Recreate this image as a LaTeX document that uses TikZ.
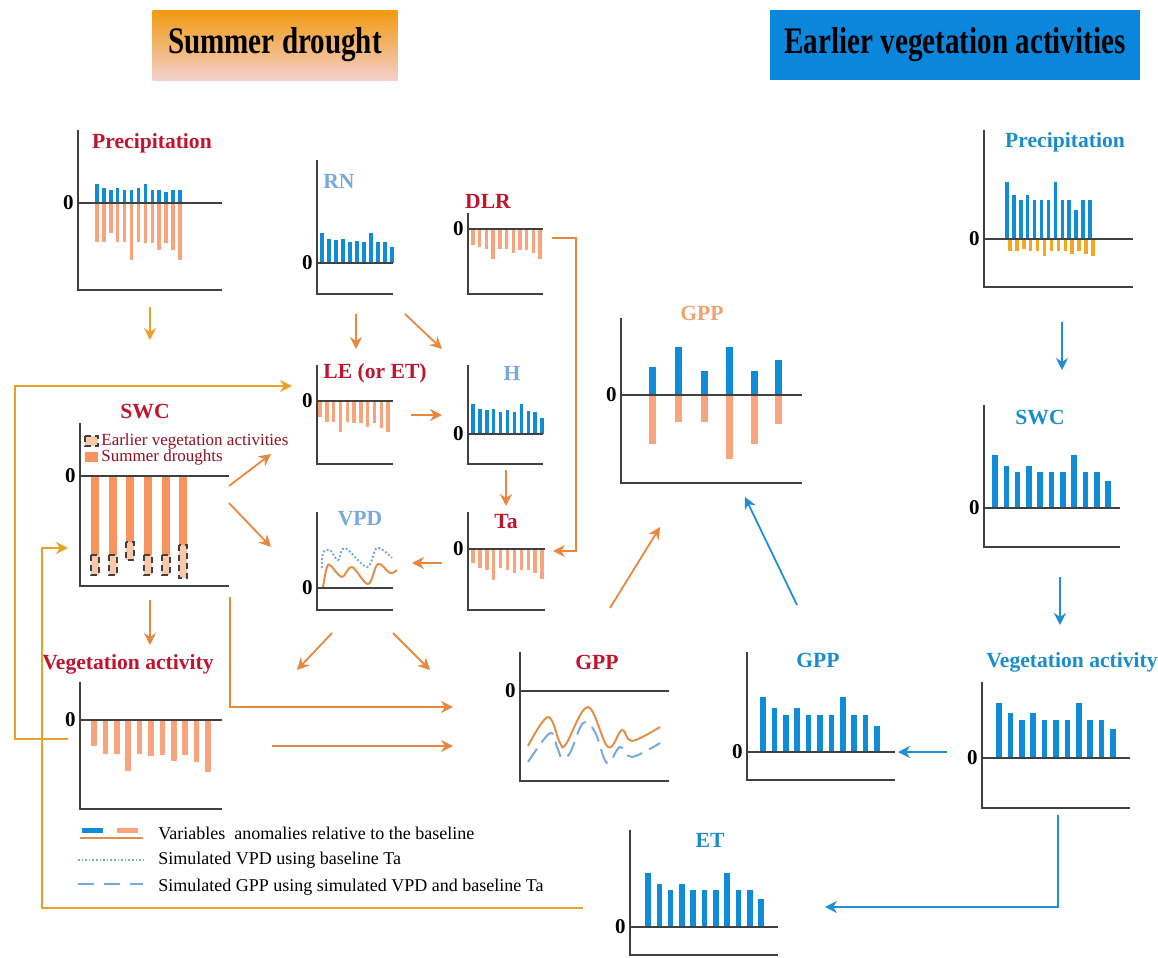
\documentclass[tikz,border=0pt]{standalone}
\usepackage{fontspec}
\setmainfont{Liberation Serif}
\usetikzlibrary{arrows.meta, positioning, calc}

\definecolor{dred}{HTML}{C0142E}
\definecolor{lblue}{HTML}{78A9DE}
\definecolor{tblue}{HTML}{1A8CCB}
\definecolor{barblue}{HTML}{0F8BD8}
\definecolor{barsalmon}{HTML}{F8A57E}
\definecolor{swcbar}{HTML}{F8955E}
\definecolor{swclight}{HTML}{F9C9A9}
\definecolor{baryellow}{HTML}{F5A623}
\definecolor{gpporange}{HTML}{F1A170}
\definecolor{curveorange}{HTML}{E0904A}
\definecolor{arrorange}{HTML}{E8873E}
\definecolor{arrgold}{HTML}{E9A229}
\definecolor{arrblue}{HTML}{1E8FD0}
\definecolor{axisgray}{HTML}{404040}
\definecolor{hdrorange}{HTML}{F29A10}
\definecolor{hdrpink}{HTML}{F3D0CC}
\definecolor{hdrblue}{HTML}{0A87DC}

\tikzset{
  axis/.style={draw=axisgray, line width=0.9pt},
  zero/.style={font=\bfseries\fontsize{10.5}{12}\selectfont, anchor=east, inner sep=0pt},
  title/.style={font=\bfseries\fontsize{10.8}{12}\selectfont, inner sep=1pt},
  header/.style={font=\bfseries\fontsize{15}{17}\selectfont, inner sep=0pt, minimum height=35pt},
  thinbar/.style={line width=1.7pt},
  widebar/.style={line width=2.8pt},
  gppbar/.style={line width=3.5pt},
  curve/.style={line width=1pt, smooth, tension=0.6},
  arr/.style={draw=arrorange, line width=0.9pt, -{Stealth[length=6pt,width=6pt]}},
  garr/.style={arr, draw=arrgold},
  barr/.style={arr, draw=arrblue},
  legtext/.style={font=\fontsize{9}{10}\selectfont, anchor=west, inner sep=0pt},
  swctext/.style={legtext, text=dred!75!black, font=\fontsize{8.5}{10}\selectfont},
}

% name, x left, y top, x right, y bottom, y zero
\newcommand{\chartframe}[6]{%
  \draw[axis] (#2,#3) -- (#2,#5) -- (#4,#5);
  \draw[axis] (#2,#6) -- (#4,#6);
  \node[zero] (#1-zero) at ({#2-4},#6) {0};
}

\begin{document}
\begin{tikzpicture}[x=0.5pt, y=-0.5pt]
  \useasboundingbox (0,0) rectangle (1158,958);

  % ==========================================
  % Headers
  % ==========================================
  \node[header, top color=hdrorange, bottom color=hdrpink, minimum width=122.5pt] (sd) at (275,45) {\scalebox{0.97}[1.25]{Summer drought}};
  \node[header, fill=hdrblue, minimum width=185pt] (ev) at (955,45) {\scalebox{0.97}[1.25]{Earlier vegetation activities}};

  % ==========================================
  % Summer drought: precipitation
  % ==========================================
  \foreach \h [count=\i] in {19,15,13,15,13,13,15,19,13,13,11,13,13}
    \draw[thinbar, draw=barblue] ({97+(\i-1)*6.9},203) -- ++(0,-\h);
  \foreach \h [count=\i] in {39,39,30,39,39,57,39,40,40,47,40,47,57}
    \draw[thinbar, draw=barsalmon] ({97+(\i-1)*6.9},203) -- ++(0,\h);
  \chartframe{sdprec}{78}{130}{222}{290}{203}
  \node[title, text=dred] (t-sdprec) at (152,143) {Precipitation};

  % ==========================================
  % Energy terms: RN, DLR, LE, H, Ta, VPD
  % ==========================================
  \foreach \h [count=\i] in {30,24,23,24,21,22,21,30,21,21,16}
    \draw[thinbar, draw=barblue] ({322+(\i-1)*7},263) -- ++(0,-\h);
  \chartframe{rn}{317}{160}{393}{294}{263}
  \node[title, text=lblue] (t-rn) at (339,181) {RN};

  \foreach \h [count=\i] in {16,18,20,30,20,20,24,21,21,24,30}
    \draw[thinbar, draw=barsalmon] ({473+(\i-1)*6.7},229) -- ++(0,\h);
  \chartframe{dlr}{468}{213}{543}{294}{229}
  \node[title, text=dred] (t-dlr) at (488,201) {DLR};

  \foreach \h [count=\i] in {16,21,21,31,21,22,22,26,22,27,31}
    \draw[thinbar, draw=barsalmon] ({320+(\i-1)*6.8},401) -- ++(0,\h);
  \chartframe{le}{317}{365}{393}{464}{401}
  \node[title, text=dred] (t-le) at (375,373) {LE (or ET)};

  \foreach \h [count=\i] in {30,25,24,25,22,24,22,30,23,22,16}
    \draw[thinbar, draw=barblue] ({473+(\i-1)*6.9},434) -- ++(0,-\h);
  \chartframe{h}{468}{365}{543}{464}{434}
  \node[title, text=lblue] (t-h) at (512,373) {H};

  \foreach \h [count=\i] in {14,19,21,31,19,21,24,21,21,24,30}
    \draw[thinbar, draw=barsalmon] ({473+(\i-1)*6.9},549) -- ++(0,\h);
  \chartframe{ta}{468}{512}{545}{610}{549}
  \node[title, text=dred] (t-ta) at (506,522) {Ta};

  \draw[curve, draw=lblue, densely dotted] plot coordinates {(322,568) (323,553) (330,550) (338,560) (345,548) (367,567) (377,548) (392,558)};
  \draw[curve, draw=curveorange] plot coordinates {(323,587) (327,567) (331,566) (342,577) (352,567) (368,584) (378,564) (390,573) (397,570)};
  \chartframe{vpd}{317}{512}{393}{610}{588}
  \node[title, text=lblue] (t-vpd) at (360,519) {VPD};

  % ==========================================
  % Summer drought: SWC and vegetation activity
  % ==========================================
  \foreach \x/\b/\e in {95/555/575, 113/555/575, 130/542/560, 148/555/575, 166/555/575, 183/545/578} {
    \fill[swcbar] ({\x-4},476) rectangle ({\x+4},\b);
    \draw[fill=swclight, draw=axisgray, densely dashed, line width=0.6pt] ({\x-4},\b) rectangle ({\x+4},\e);
  }
  \chartframe{swc}{80}{423}{229}{586}{476}
  \node[title, text=dred] (t-swc) at (145,412) {SWC};
  \draw[fill=swclight, draw=axisgray, densely dashed, line width=0.6pt] (85,436) rectangle (98,446);
  \node[swctext] (l-ev) at (101,441) {Earlier vegetation activities};
  \fill[swcbar] (85,452) rectangle (98,462);
  \node[swctext] (l-sd) at (101,457) {Summer droughts};

  \foreach \h [count=\i] in {26,34,34,51,34,36,35,41,35,42,52}
    \draw[widebar, draw=barsalmon] ({94+(\i-1)*11.4},720) -- ++(0,\h);
  \chartframe{veg}{80}{682}{222}{809}{720}
  \node[title, text=dred] (t-veg) at (128,664) {Vegetation activity};

  % ==========================================
  % GPP panels
  % ==========================================
  \foreach \x/\u/\d in {652/28/49, 678/48/27, 704/24/27, 729/48/64, 754/24/49, 778/35/29} {
    \draw[gppbar, draw=barblue] (\x,395) -- ++(0,-\u);
    \draw[gppbar, draw=barsalmon] (\x,395) -- ++(0,\d);
  }
  \chartframe{cgpp}{621}{318}{802}{483}{395}
  \node[title, text=gpporange] (t-cgpp) at (702,313) {GPP};

  \draw[curve, draw=lblue, dash pattern=on 8pt off 4pt] plot coordinates {(528,762) (550,733) (557,747) (562,758) (570,753) (583,723) (595,732) (607,763) (620,747) (632,757) (660,743)};
  \draw[curve, draw=curveorange] plot coordinates {(528,746) (548,717) (560,743) (566,744) (588,707) (608,747) (622,730) (632,741) (660,727)};
  \chartframe{rgpp}{520}{652}{669}{781}{691}
  \node[title, text=dred] (t-rgpp) at (597,662) {GPP};

  \foreach \h [count=\i] in {55,44,37,44,37,37,37,55,37,37,26}
    \draw[widebar, draw=barblue] ({763+(\i-1)*11.4},752) -- ++(0,-\h);
  \chartframe{bgpp}{747}{652}{895}{780}{752}
  \node[title, text=tblue] (t-bgpp) at (818,660) {GPP};

  % ==========================================
  % Earlier vegetation activities
  % ==========================================
  \foreach \h [count=\i] in {57,44,39,44,39,39,39,57,39,39,29,39,39}
    \draw[thinbar, draw=barblue] ({1007+(\i-1)*6.9},239) -- ++(0,-\h);
  \foreach \h [count=\i] in {12,12,10,12,12,17,12,12,12,15,12,15,17}
    \draw[thinbar, draw=baryellow] ({1010+(\i-1)*6.9},239) -- ++(0,\h);
  \chartframe{evprec}{984}{130}{1133}{287}{239}
  \node[title, text=tblue] (t-evprec) at (1065,142) {Precipitation};

  \foreach \h [count=\i] in {53,42,36,42,36,36,36,53,36,36,27}
    \draw[widebar, draw=barblue] ({995+(\i-1)*11.3},508) -- ++(0,-\h);
  \chartframe{rswc}{984}{405}{1120}{547}{508}
  \node[title, text=tblue] (t-rswc) at (1040,418) {SWC};

  \foreach \h [count=\i] in {55,45,38,45,38,38,38,55,38,38,29}
    \draw[widebar, draw=barblue] ({999+(\i-1)*11.4},758) -- ++(0,-\h);
  \chartframe{rveg}{982}{682}{1130}{808}{758}
  \node[title, text=tblue] (t-rveg) at (1072,662) {Vegetation activity};

  \foreach \h [count=\i] in {54,43,37,43,37,37,37,54,37,37,28}
    \draw[widebar, draw=barblue] ({648+(\i-1)*11.3},927) -- ++(0,-\h);
  \chartframe{et}{630}{830}{778}{955}{927}
  \node[title, text=tblue] (t-et) at (710,840) {ET};

  % ==========================================
  % Legend
  % ==========================================
  \draw[line width=2.5pt, draw=barblue] (82,830) -- (103,830);
  \draw[line width=2.5pt, draw=barsalmon] (117,830) -- (138,830);
  \draw[line width=1pt, draw=curveorange] (80,838) -- (143,838);
  \draw[line width=0.8pt, draw=lblue, densely dotted] (78,860) -- (143,860);
  \draw[line width=0.8pt, draw=lblue, dash pattern=on 8pt off 5pt] (78,884) -- (143,884);
  \node[legtext] (l-anom) at (158,833) {Variables\ \ anomalies relative to the baseline};
  \node[legtext] (l-vpd) at (158,860) {Simulated VPD using baseline Ta};
  \node[legtext] (l-gpp) at (158,887) {Simulated GPP using simulated VPD and baseline Ta};

  % ==========================================
  % Connectors
  % ==========================================
  \coordinate (prswc-s) at (150,307);   \coordinate (prswc-e) at (150,340);
  \coordinate (rnle-s) at (356,314);    \coordinate (rnle-e) at (356,349);
  \coordinate (rnh-s) at (405,314);     \coordinate (rnh-e) at (442,349);
  \coordinate (leh-s) at (411,415);     \coordinate (leh-e) at (442,415);
  \coordinate (hta-s) at (506,470);     \coordinate (hta-e) at (506,506);
  \coordinate (dlrta-s) at (552,238);   \coordinate (dlrta-c) at (576,551);
  \coordinate (dlrta-e) at (553,551);
  \coordinate (tavpd-s) at (442,563);   \coordinate (tavpd-e) at (412,563);
  \coordinate (swcle-s) at (229,486);   \coordinate (swcle-e) at (271,454);
  \coordinate (swcvpd-s) at (229,503);  \coordinate (swcvpd-e) at (271,547);
  \coordinate (swcveg-s) at (150,600);  \coordinate (swcveg-e) at (150,645);
  \coordinate (vpdveg-s) at (332,633);  \coordinate (vpdveg-e) at (297,670);
  \coordinate (vpdgpp-s) at (393,633);  \coordinate (vpdgpp-e) at (430,670);
  \coordinate (swcgpp-s) at (230,597);  \coordinate (swcgpp-e) at (453,707);
  \coordinate (veggpp-s) at (272,746);  \coordinate (veggpp-e) at (453,746);
  \coordinate (rgc-s) at (610,608);     \coordinate (rgc-e) at (660,527);
  \coordinate (bgc-s) at (797,605);     \coordinate (bgc-e) at (745,497);
  \coordinate (evsw-s) at (1062,322);   \coordinate (evsw-e) at (1062,370);
  \coordinate (swrv-s) at (1060,577);   \coordinate (swrv-e) at (1060,625);
  \coordinate (rvbg-s) at (947,752);    \coordinate (rvbg-e) at (898,752);
  \coordinate (rvet-s) at (1058,815);   \coordinate (rvet-e) at (825,907);
  \coordinate (vegloop-s) at (68,739);  \coordinate (vegloop-c) at (15,386);
  \coordinate (vegloop-e) at (292,386);
  \coordinate (etloop-s) at (583,908);  \coordinate (etloop-c) at (42,548);
  \coordinate (etloop-e) at (68,548);

  \draw[garr] (prswc-s) -- (prswc-e);
  \draw[arr] (rnle-s) -- (rnle-e);
  \draw[arr] (rnh-s) -- (rnh-e);
  \draw[arr] (leh-s) -- (leh-e);
  \draw[arr] (hta-s) -- (hta-e);
  \draw[arr] (dlrta-s) -| (dlrta-c) -- (dlrta-e);
  \draw[arr] (tavpd-s) -- (tavpd-e);
  \draw[arr] (swcle-s) -- (swcle-e);
  \draw[arr] (swcvpd-s) -- (swcvpd-e);
  \draw[arr] (swcveg-s) -- (swcveg-e);
  \draw[arr] (vpdveg-s) -- (vpdveg-e);
  \draw[arr] (vpdgpp-s) -- (vpdgpp-e);
  \draw[arr] (swcgpp-s) |- (swcgpp-e);
  \draw[arr] (veggpp-s) -- (veggpp-e);
  \draw[arr] (rgc-s) -- (rgc-e);
  \draw[barr] (bgc-s) -- (bgc-e);
  \draw[barr] (evsw-s) -- (evsw-e);
  \draw[barr] (swrv-s) -- (swrv-e);
  \draw[barr] (rvbg-s) -- (rvbg-e);
  \draw[barr] (rvet-s) |- (rvet-e);
  \draw[garr] (vegloop-s) -| (vegloop-c) -- (vegloop-e);
  \draw[garr] (etloop-s) -| (etloop-c) -- (etloop-e);

\end{tikzpicture}
\end{document}
